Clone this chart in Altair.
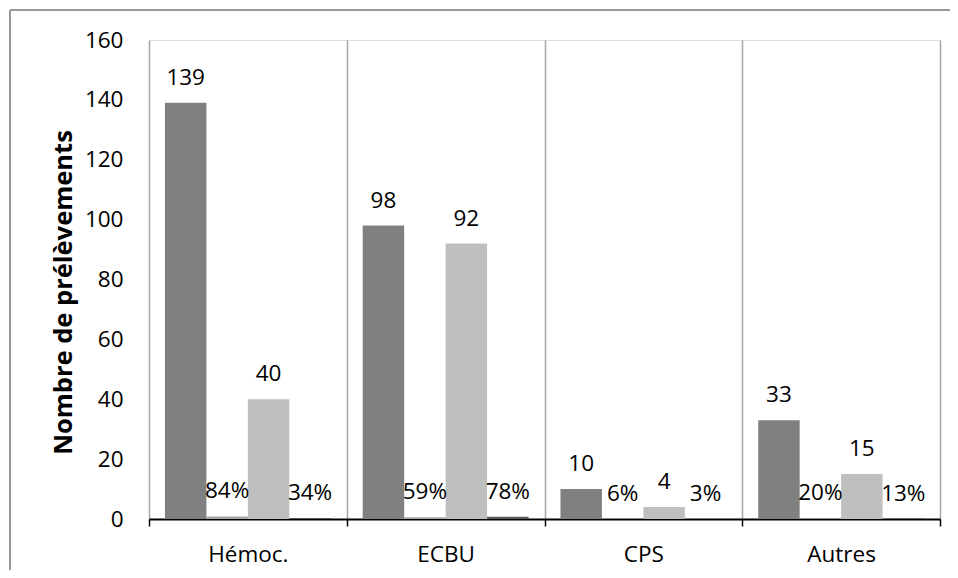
import altair as alt
import pandas as pd

categories = ["Hémoc.", "ECBU", "CPS", "Autres"]
count_a = [139, 98, 10, 33]
pct_a = [84, 59, 6, 20]
count_b = [40, 92, 4, 15]
pct_b = [34, 78, 3, 13]

series = ["n1", "p1", "n2", "p2"]
series_colors = ["#808080", "#A6A6A6", "#BFBFBF", "#595959"]

rows = []
for i, c in enumerate(categories):
    rows.append({"cat": c, "serie": "n1", "value": count_a[i], "label": str(count_a[i])})
    rows.append({"cat": c, "serie": "p1", "value": pct_a[i] / 100, "label": f"{pct_a[i]}%"})
    rows.append({"cat": c, "serie": "n2", "value": count_b[i], "label": str(count_b[i])})
    rows.append({"cat": c, "serie": "p2", "value": pct_b[i] / 100, "label": f"{pct_b[i]}%"})
df = pd.DataFrame(rows)

FONT = "Open Sans"
FS = 22.5

x_enc = alt.X(
    "cat:N",
    sort=categories,
    scale=alt.Scale(paddingInner=0, paddingOuter=0),
    axis=alt.Axis(
        title=None,
        tickBand="extent",
        grid=True,
        gridColor="#A6A6A6",
        gridWidth=1.5,
        domainColor="black",
        domainWidth=2,
        tickColor="black",
        tickWidth=1.5,
        tickSize=7,
        labelFont=FONT,
        labelFontSize=FS,
        labelColor="black",
        labelPadding=17,
        labelAngle=0,
    ),
)
xo_enc = alt.XOffset(
    "serie:N",
    sort=series,
    scale=alt.Scale(paddingOuter=0.385, paddingInner=0),
)
y_enc = alt.Y(
    "value:Q",
    scale=alt.Scale(domain=[0, 160]),
    axis=alt.Axis(
        title="Nombre de prélèvements",
        values=[0, 20, 40, 60, 80, 100, 120, 140, 160],
        grid=False,
        domain=False,
        ticks=False,
        labelFont=FONT,
        labelFontSize=FS,
        labelColor="black",
        labelPadding=26,
        titleFont=FONT,
        titleFontSize=25.5,
        titleFontWeight="bold",
        titleColor="black",
        titlePadding=8,
        titleY=252,
    ),
)

base = alt.Chart(df)

bars = base.mark_bar().encode(
    x=x_enc,
    xOffset=xo_enc,
    y=y_enc,
    color=alt.Color("serie:N", scale=alt.Scale(domain=series, range=series_colors), legend=None),
)

labels = base.mark_text(
    dy=-18, baseline="alphabetic", font=FONT, fontSize=FS, color="black"
).encode(
    x=alt.X("cat:N", sort=categories),
    xOffset=alt.XOffset("serie:N", sort=series),
    y=alt.Y("value:Q"),
    text="label:N",
)

frame_df = pd.DataFrame({"k": [0]})
frame_left = alt.Chart(frame_df).mark_rule(color="#999999", strokeWidth=2).encode(
    x=alt.value(-139), y=alt.value(-30), y2=alt.value(600)
)
frame_top = alt.Chart(frame_df).mark_rule(color="#999999", strokeWidth=2).encode(
    x=alt.value(-139), x2=alt.value(900), y=alt.value(-30)
)

chart = alt.layer(frame_left, frame_top, bars, labels).properties(
    width=791,
    height=479,
    autosize=alt.AutoSizeParams(type="none"),
    padding={"left": 141, "top": 32, "right": 10, "bottom": 51},
).configure_view(stroke=None).configure(background="white")

chart.save("out.html", embed_options={"renderer": "svg", "actions": False})
